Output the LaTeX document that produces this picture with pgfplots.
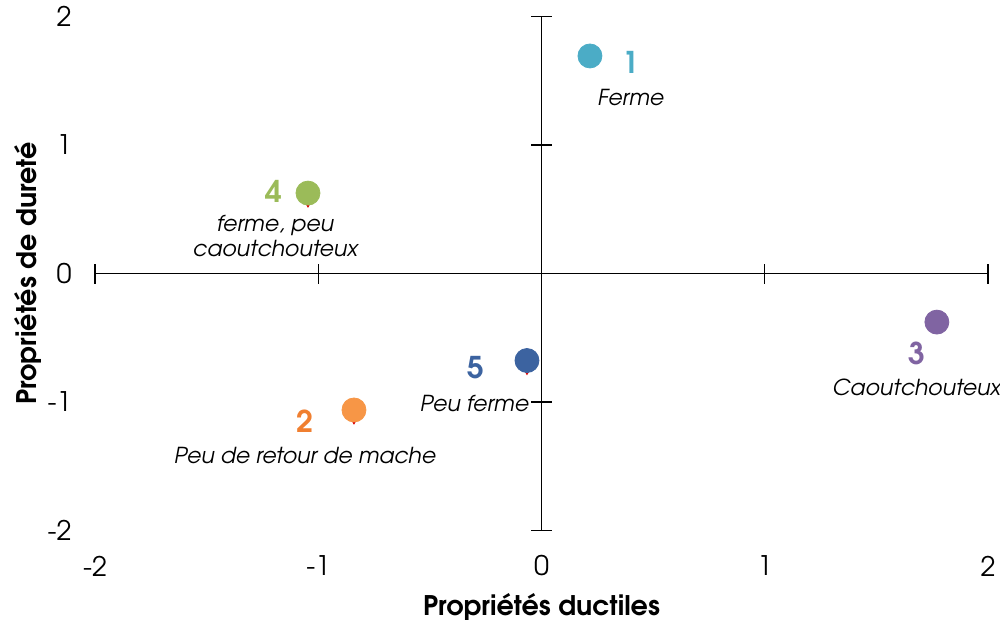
\documentclass[border=0pt]{standalone}
\usepackage{pgfplots}
\pgfplotsset{compat=1.18}
\usepackage{fontspec}
\setmainfont{TeX Gyre Adventor}
\definecolor{cA}{HTML}{4BACC6}
\definecolor{cB}{HTML}{F79646}
\definecolor{cBt}{HTML}{F07F30}
\definecolor{cC}{HTML}{8064A2}
\definecolor{cD}{HTML}{9BBB59}
\definecolor{cE}{HTML}{3C63A0}
\begin{document}
\begin{tikzpicture}
\useasboundingbox (-270.75pt,-177.75pt) rectangle (229.25pt,136.75pt);
% frame axis with tick labels and titles
\begin{axis}[
  at={(0,0)}, anchor=origin,
  scale only axis, width=446.5pt, height=257pt,
  xmin=-2, xmax=2, ymin=-2, ymax=2,
  axis line style={draw=none}, tick style={draw=none},
  xtick={-2,-1,0,1,2}, ytick={-2,-1,0,1,2},
  /pgf/number format/assume math mode=true,
  ticklabel style={font=\fontsize{13.5}{16}\selectfont, inner sep=0pt},
  xticklabel style={anchor=center, yshift=-17.75pt},
  yticklabel style={anchor=east, xshift=-11.5pt},
  xlabel={Propriétés ductiles}, ylabel={Propriétés de dureté},
  label style={font=\fontsize{13.5}{16}\selectfont\bfseries},
  xlabel style={at={(axis description cs:0.5,-0.149)}, anchor=center},
  ylabel style={at={(axis description cs:-0.075,0.5)}, anchor=center},
]
\end{axis}
% cross axes with data
\begin{axis}[
  at={(0,0)}, anchor=origin,
  scale only axis, width=446.5pt, height=257pt,
  xmin=-2, xmax=2, ymin=-2, ymax=2,
  axis lines=middle, axis line style={-, black, line width=0.55pt},
  xtick={-2,-1,1,2}, ytick={-2,-1,1,2},
  xticklabels={}, yticklabels={},
  tick align=center, major tick length=10pt,
  tick style={black, line width=0.55pt},
  clip=false,
]
\addplot[only marks, mark=triangle*, mark size=2.5pt, color=red!85!black,
  mark options={yshift=-4.5pt, rotate=180}] coordinates {
  (-1.046,0.626) (-0.065,-0.677) (-0.840,-1.062)};
\addplot[only marks, mark=*, mark size=6pt, color=cA] coordinates {(0.217,1.693)};
\addplot[only marks, mark=*, mark size=6pt, color=cB] coordinates {(-0.840,-1.062)};
\addplot[only marks, mark=*, mark size=6pt, color=cC] coordinates {(1.771,-0.378)};
\addplot[only marks, mark=*, mark size=6pt, color=cD] coordinates {(-1.046,0.626)};
\addplot[only marks, mark=*, mark size=6pt, color=cE] coordinates {(-0.065,-0.677)};
\begin{scope}[every node/.style={font=\fontsize{15}{18}\selectfont\bfseries}]
\node[text=cA] at (axis cs:0.400,1.640) {1};
\node[text=cD] at (axis cs:-1.198,0.642) {4};
\node[text=cC] at (axis cs:1.682,-0.619) {3};
\node[text=cE] at (axis cs:-0.293,-0.735) {5};
\node[text=cBt] at (axis cs:-1.059,-1.148) {2};
\end{scope}
\begin{scope}[every node/.style={font=\fontsize{11}{12.5}\selectfont\itshape, align=center}]
\node at (axis cs:0.400,1.370) {Ferme};
\node at (axis cs:-1.193,0.292) {ferme, peu\\caoutchouteux};
\node[anchor=west, inner sep=0pt] at (axis cs:1.301,-0.883) {Caoutchouteux};
\node at (axis cs:-0.300,-1.008) {Peu ferme};
\node at (axis cs:-1.059,-1.420) {Peu de retour de mache};
\end{scope}
\end{axis}
\end{tikzpicture}
\end{document}
